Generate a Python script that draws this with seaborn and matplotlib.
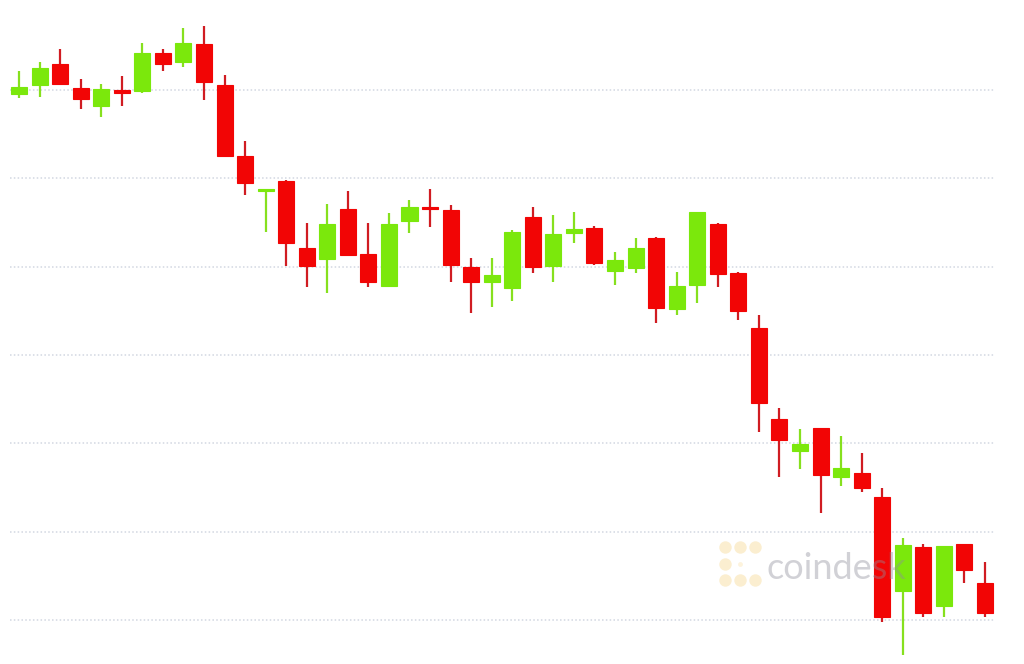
import numpy as np
import pandas as pd
import matplotlib
matplotlib.use("Agg")
import matplotlib.pyplot as plt
import seaborn as sns

# OHLC values (48 periods)
opens = [9996, 10006, 10029, 10002, 9982, 10000, 9999, 10042, 10032, 10052,
         10006, 9925, 9886, 9897, 9821, 9809, 9865, 9814, 9778, 9852,
         9868, 9864, 9800, 9783, 9776, 9856, 9801, 9838, 9844, 9795,
         9798, 9833, 9752, 9779, 9848, 9793, 9730, 9628, 9591, 9617,
         9562, 9566, 9539, 9433, 9482, 9416, 9486, 9442]
highs = [10022, 10032, 10046, 10013, 10007, 10016, 10053, 10047, 10070, 10073,
         10017, 9942, 9888, 9898, 9850, 9871, 9886, 9850, 9861, 9876,
         9888, 9870, 9810, 9810, 9841, 9868, 9859, 9862, 9846, 9817,
         9833, 9834, 9794, 9862, 9849, 9794, 9745, 9640, 9616, 9617,
         9608, 9589, 9549, 9493, 9486, 9484, 9486, 9465]
lows = [9991, 9992, 10007, 9979, 9969, 9982, 9997, 10022, 10026, 9989,
        9925, 9881, 9839, 9801, 9777, 9770, 9813, 9777, 9778, 9838,
        9845, 9783, 9748, 9754, 9761, 9793, 9783, 9827, 9802, 9779,
        9793, 9736, 9745, 9759, 9777, 9740, 9613, 9562, 9571, 9521,
        9552, 9545, 9398, 9360, 9403, 9403, 9442, 9403]
closes = [10004, 10025, 10007, 9990, 10001, 9997, 10042, 10029, 10053, 10009,
          9925, 9895, 9888, 9827, 9801, 9848, 9813, 9783, 9848, 9867,
          9865, 9802, 9783, 9791, 9839, 9800, 9837, 9843, 9804, 9807,
          9821, 9753, 9778, 9862, 9792, 9750, 9646, 9604, 9599, 9564,
          9572, 9549, 9403, 9485, 9408, 9484, 9457, 9408]
grid_levels = [9400, 9500, 9600, 9700, 9800, 9900, 10000]

df = pd.DataFrame({"open": opens, "high": highs, "low": lows, "close": closes})
df["idx"] = np.arange(len(df))
df["up"] = df["close"] >= df["open"]

GREEN = "#7be80c"
RED = "#f20505"
WICK_RED = "#d01c22"
WICK_GREEN = "#86e01e"

sns.set_style("white")
fig = plt.figure(figsize=(10.24, 6.64), dpi=100)
ax = fig.add_axes([0, 0, 1, 1])

# dotted horizontal grid
ax.hlines(grid_levels, -0.45, len(df) - 0.5, colors="#d2d7e1",
          linestyles=(0, (1, 1.5)), linewidth=1.1, zorder=0)

# candles
for _, r in df.iterrows():
    body_col = GREEN if r["up"] else RED
    wick_col = WICK_GREEN if r["up"] else WICK_RED
    ax.vlines(r["idx"], r["low"], r["high"], color=wick_col, linewidth=1.6, zorder=2)
    lo = min(r["open"], r["close"])
    h = max(abs(r["close"] - r["open"]), 2)
    ax.bar(r["idx"], h, bottom=lo, width=0.78, color=body_col,
           edgecolor=body_col, linewidth=0.8, zorder=3)

# watermark (sits on top, semi-transparent)
ax.text(0.749, 0.128, "coindesk", transform=ax.transAxes, fontsize=26,
        family="Lato", color="#8e8e9a", alpha=0.4, ha="left", va="baseline", zorder=5)
logo_x = [0.708, 0.708, 0.708, 0.723, 0.737, 0.723, 0.737]
logo_y = [0.176, 0.151, 0.127, 0.176, 0.176, 0.127, 0.127]
ax.scatter(logo_x, logo_y, s=80, marker="o", color="#fbecc8", alpha=0.85,
           transform=ax.transAxes, zorder=5, linewidths=0)
ax.scatter([0.723], [0.151], s=12, marker="o", color="#fdf3dc",
           transform=ax.transAxes, zorder=5, linewidths=0)

ax.set_xlim(-0.925, 48.9)
ax.set_ylim(9350, 10102)
ax.axis("off")

fig.savefig("out.png", dpi=100, facecolor="white")
